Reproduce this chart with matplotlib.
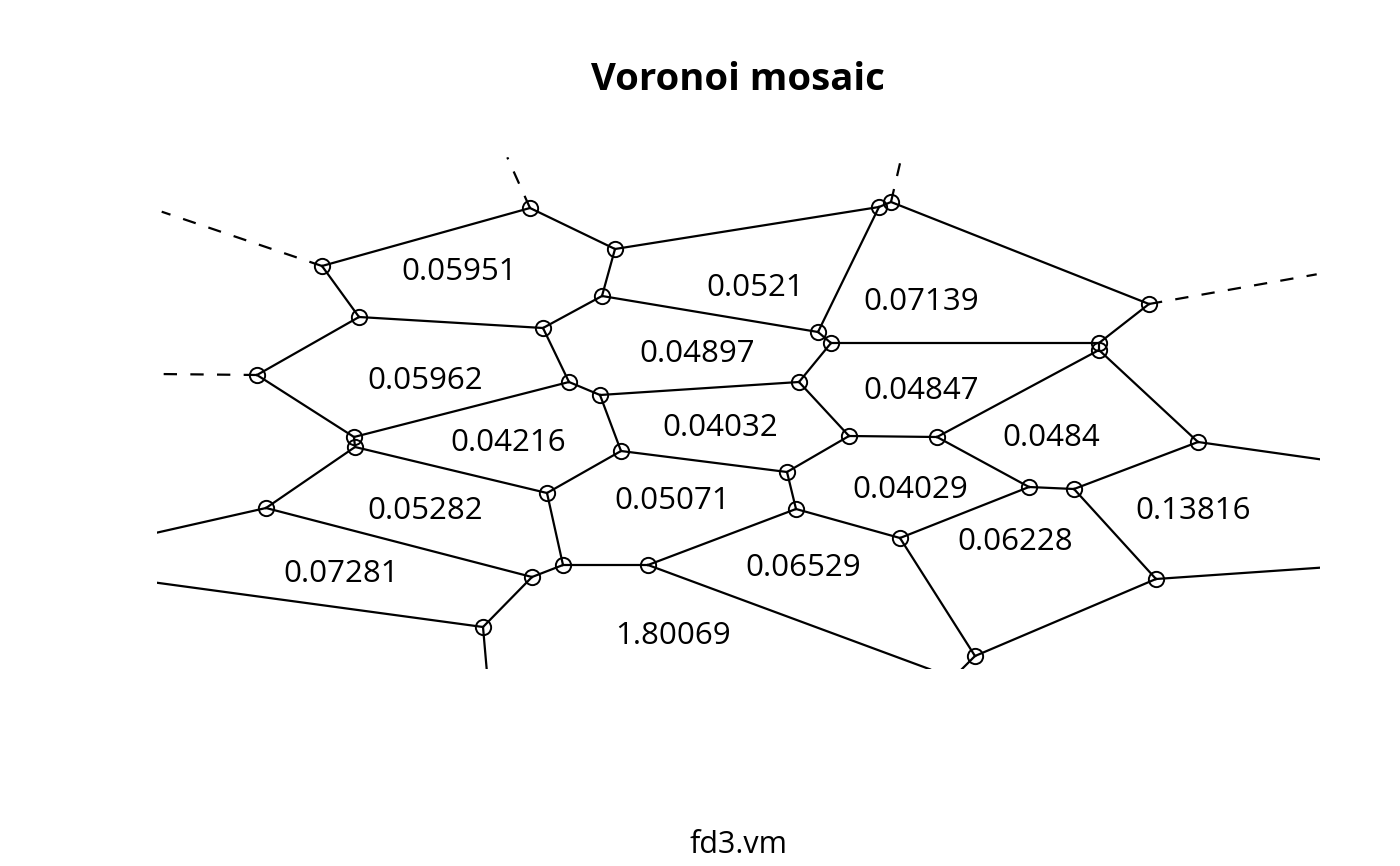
import matplotlib
matplotlib.use("Agg")
import matplotlib.pyplot as plt
from matplotlib.transforms import offset_copy

plt.rcParams['font.family'] = ['Open Sans', 'DejaVu Sans']

# Voronoi vertices (screen-like coords, y grows downward)
vx = [530, 615, 322, 602, 359, 543, 818, 831, 879, 891, 1149, 1099,
      1099, 257, 569, 600, 799, 354, 355, 849, 937, 621, 787, 1198,
      547, 266, 796, 1029, 1074, 900, 563, 648, 532, 1156, 483, 975]
vy = [208, 249, 266, 296, 317, 328, 332, 343, 207, 202, 304, 343,
      350, 375, 382, 395, 382, 437, 447, 436, 437, 451, 472, 442,
      493, 508, 509, 487, 489, 538, 565, 565, 577, 579, 627, 656]

# edges between vertices
edges = [(2, 0), (0, 1), (1, 3), (1, 8), (2, 4), (4, 5), (5, 3), (3, 6),
         (6, 8), (8, 9), (9, 10), (6, 7), (7, 11), (10, 11), (11, 12),
         (7, 16), (4, 13), (13, 17), (17, 14), (5, 14), (14, 15), (15, 16),
         (15, 21), (16, 19), (19, 20), (20, 12), (12, 23), (17, 18),
         (18, 25), (18, 24), (21, 24), (21, 22), (22, 19), (22, 26),
         (20, 27), (27, 28), (28, 23), (27, 29), (26, 29), (26, 31),
         (31, 30), (30, 24), (30, 32), (32, 25), (32, 34), (29, 35),
         (35, 33), (33, 28)]

# edges leaving the plot region (vertex, far end)
out_from = [23, 25, 34, 34, 31, 35, 33]
out_x = [1320, 156.7, 156.7, 486.7, 930, 961.7, 1320]
out_y = [459.3, 532.7, 582.7, 669.3, 669.3, 669.3, 567.7]

# dashed edges to dummy points
dash_from = [2, 13, 0, 9, 10]
dash_x = [161.7, 156.7, 507.3, 900, 1316.7]
dash_y = [211.7, 374, 157.3, 163.3, 274.3]

# cell areas
areas = ['0.05951', '0.0521', '0.07139', '0.04897', '0.05962', '0.04847',
         '0.04216', '0.04032', '0.0484', '0.04029', '0.05071', '0.05282',
         '0.13816', '0.06228', '0.06529', '0.07281', '1.80069']
area_x = [459, 755, 921, 697, 425, 921, 508, 720, 1051, 910, 672, 425,
          1193, 1015, 803, 341, 673]
area_y = [268.5, 284.5, 299, 351, 378, 388, 440, 424.5, 435, 487.5, 498, 508,
          508, 538.5, 565, 571.5, 633]

fig = plt.figure(figsize=(14, 8.66), dpi=100)
ax = fig.add_axes([157 / 1400, 1 - 669 / 866, (1320 - 157) / 1400, (669 - 157) / 866])
ax.set_xlim(157, 1320)
ax.set_ylim(669, 157)
ax.axis('off')

for a, b in edges:
    ax.plot([vx[a], vx[b]], [vy[a], vy[b]], color='black', lw=1.6)

for i, ex, ey in zip(out_from, out_x, out_y):
    ax.plot([vx[i], ex], [vy[i], ey], color='black', lw=1.6)

for i, ex, ey in zip(dash_from, dash_x, dash_y):
    ax.plot([vx[i], ex], [vy[i], ey], color='black', lw=1.6, dashes=(6, 6))

ax.plot(vx, vy, 'o', ms=11, mfc='none', mec='black', mew=1.4)

# labels sit a touch lower than the text box centre
txt_tr = offset_copy(ax.transData, fig=fig, y=-3, units='dots')
for t, x, y in zip(areas, area_x, area_y):
    ax.text(x, y, t, fontsize=22.5, ha='center', va='center', transform=txt_tr)

fig.text(738 / 1400, 1 - 80 / 866, 'Voronoi mosaic', fontsize=27.5,
         fontweight='bold', ha='center', va='center')
fig.text(738 / 1400, 1 - 845 / 866, 'fd3.vm', fontsize=22,
         ha='center', va='center')

fig.savefig('out.png', dpi=100)
